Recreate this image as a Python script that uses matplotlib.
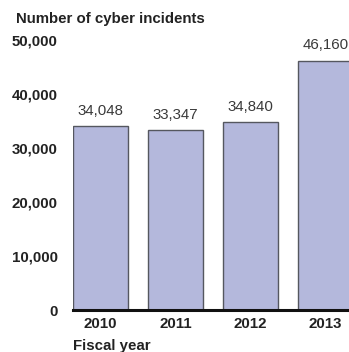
import matplotlib.pyplot as plt
import matplotlib as mpl

mpl.rcParams['font.family'] = ['Liberation Sans', 'DejaVu Sans']

years = ['2010', '2011', '2012', '2013']
incidents = [34048, 33347, 34840, 46160]
yticks = [0, 10000, 20000, 30000, 40000, 50000]

fig = plt.figure(figsize=(3.49, 3.52), dpi=100)
ax = fig.add_axes([73/349, 42/352, 1 - 73/349, 270/352])

x = range(len(years))
ax.bar(x, incidents, width=0.733, color='#b4b8dc', edgecolor='#55575f', linewidth=1.0, zorder=2)
for xi, v in zip(x, incidents):
    ax.annotate(f'{v:,}', (xi, v), xytext=(0, 6), textcoords='offset points',
                ha='center', va='bottom', fontsize=10.8, color='#3a3a3a')

ax.set_xlim(-0.367, 3.313)
ax.set_ylim(0, 50000)
ax.set_yticks(yticks)
ax.set_yticklabels([f'{t:,}' for t in yticks], fontsize=10.8, fontweight='bold', color='#222222')
ax.set_xticks(list(x))
ax.set_xticklabels(years, fontsize=10.8, fontweight='bold', color='#222222')
ax.tick_params(axis='both', length=0)
ax.tick_params(axis='y', pad=11)
ax.tick_params(axis='x', pad=5)

for s in ['top', 'right', 'left']:
    ax.spines[s].set_visible(False)
ax.spines['bottom'].set_linewidth(2.2)
ax.spines['bottom'].set_color('#111111')
ax.spines['bottom'].set_zorder(3)

fig.text(16/349, 1 - 19/352, 'Number of cyber incidents', fontsize=10.8, fontweight='bold',
         color='#222222', ha='left', va='center')
fig.text(73/349, 1 - 346/352, 'Fiscal year', fontsize=10.8, fontweight='bold',
         color='#222222', ha='left', va='center')

fig.savefig('out.png', dpi=100)
